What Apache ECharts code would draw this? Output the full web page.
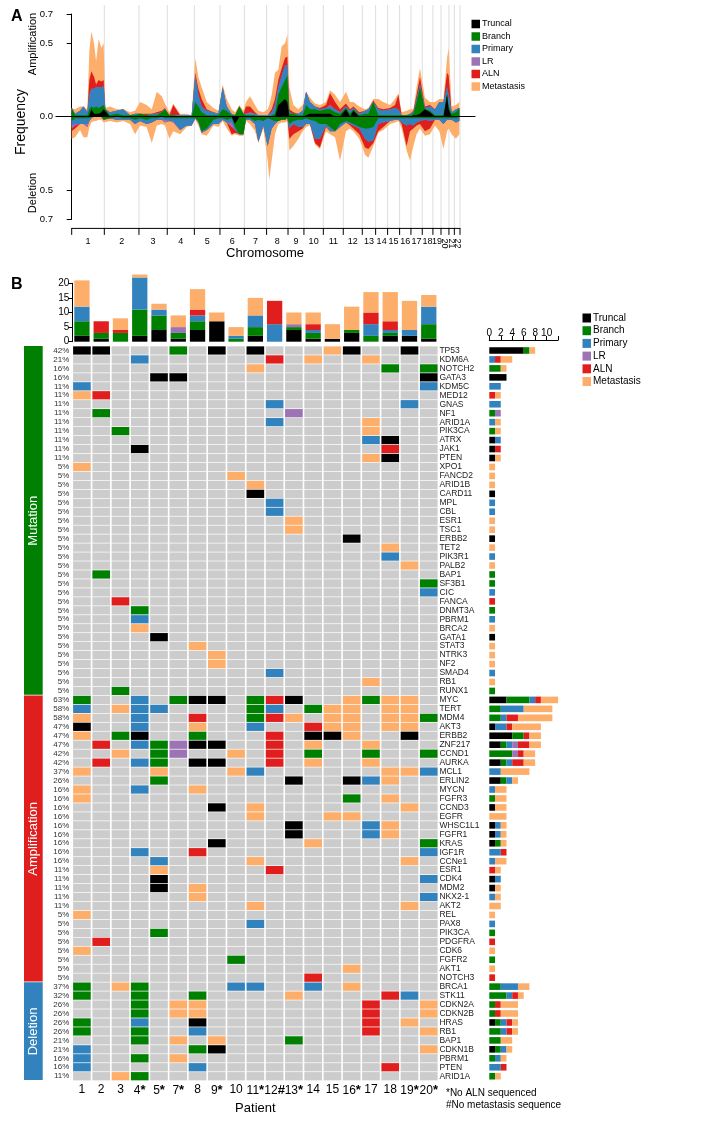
<!DOCTYPE html>
<html><head><meta charset="utf-8">
<script src="https://cdn.jsdelivr.net/npm/echarts@6/dist/echarts.min.js"></script>
<style>html,body{margin:0;padding:0;background:#fff}#c{width:720px;height:1130px}</style>
</head><body><div id="c"></div>
<script>
const FONT = '"Liberation Sans", Arial, Helvetica, sans-serif';
const layerNames = ['Truncal','Branch','Primary','LR','ALN','Metastasis'];
const layerColors = ['#000000','#008000','#3182bd','#9c73b5','#e01e1e','#fdae6b'];
const layerCodes = ['K','G','B','L','R','O'];

// ---------------- Panel A data ----------------
const chromosomes = ['1','2','3','4','5','6','7','8','9','10','11','12','13','14','15','16','17','18','19','20','21','22'];
const chromSizes = [242,257,210,201,190,181,165,159,118,144,148,141,99,89,89,84,84,79,60,59,40,42];
const freqTicks = [-0.7,-0.5,0,0.5,0.7];
const genomePos = [0,25,62,87,116,131,146,166,181,200,220,237, 250,284,334,383,433,470,507,556,594,631,668,692, 725,754,804,853,890,917,940,964,1002,1051,1088,1120, 1150,1187,1212,1244,1274,1293,1323,1360,1385,1422,1454,1466, 1484,1508,1533,1558,1583,1600,1615,1645,1682,1714,1739,1768, 1805,1842,1887,1917,1954,1991,2035,2065,2090,2134,2176,2201, 2238,2275,2312,2362,2399,2424,2448,2485,2510,2535,2559,2584, 2621,2658,2696,2728,2758,2785,2797,2819,2851,2876];
const ampTruncal = [0,0,0,0,0,.01,.05,.02,.02,.02,.03,.05, .05,0,0,0,0,0,0,0,0,0,0,0, 0,0,0,0,0,0,0,0,0,0,0,0, 0,0,0,0,0,0,0,0,0,0,0,0, 0,0,.08,.10,.12,.10,0,0,0,0,.01,.02, .02,.02,.02,.02,0,0,.05,0,.04,0,0,0, 0,0,0,0,0,0,0,0,0,.01,.01,.02, .05,.03,0,0,0,.15,.05,0,0,0];
const ampBranch = [.06,.01,.01,.01,.01,.04,.02,.04,.05,.04,.04,.03, 0,.01,.02,.01,.01,.01,.02,.01,.01,.01,.03,.05, .01,.01,0,0,0,.10,.07,.03,.01,.01,.01,.05, .04,.01,.01,.07,.02,.01,.01,.01,0,0,0,0, .01,.02,.07,.10,.13,.18,.02,.02,.01,.01,.07,.03, .03,.02,.03,.03,.03,.02,.01,.02,.01,.01,.02,.02, .10,.01,.01,.01,.01,.01,.01,.01,.01,.01,.09,.18, 0,.01,.01,.01,.01,.01,.02,.02,.03,.06];
const ampPrimary = [0,.01,.03,.06,.02,.10,.12,.13,.13,.14,.13,.13, 0,.02,.02,.04,0,.01,0,0,.01,.01,0,0, 0,0,.01,.01,.01,.18,.08,.04,.03,.02,.01,.15, .03,.01,0,0,0,.01,.01,.01,.01,.01,.01,.01, .02,.06,.05,.08,.10,.07,.01,0,.01,.03,.09,.05, .02,.01,.01,.02,.02,.01,.01,.02,.01,.01,.02,.03, 0,.04,.03,.04,.05,.04,0,0,.01,.01,.02,.02, .01,.03,.04,.09,.09,.04,.08,.01,.02,0];
const ampLR = [0,0,0,0,0,0,0,0,0,0,0,0, 0,0,0,0,0,0,0,0,0,0,0,.01, 0,0,0,0,0,0,0,0,0,0,0,0, 0,0,0,0,0,0,.01,0,0,0,0,0, 0,0,0,0,0,0,0,0,0,0,0,0, 0,0,0,.01,0,0,0,0,0,0,0,0, 0,0,0,0,0,0,0,0,0,0,0,0, 0,0,0,0,0,0,0,0,0,0];
const ampALN = [0,0,0,0,0,.10,.12,.08,.02,.05,.04,.04, 0,0,0,0,0,0,0,.01,0,.01,.01,0, 0,.07,0,0,0,.02,.04,.05,.01,0,0,0, 0,0,0,0,0,.05,.04,.01,0,0,0,.01, .02,.04,.05,.05,.05,.06,.02,.01,0,0,0,0, 0,.01,.02,.08,.05,.02,.02,.01,.01,.01,0,0, .01,.01,.01,.01,.02,.10,0,0,0,.01,.03,.05, .01,.01,0,0,0,.10,.13,0,0,0];
const ampMet = [0,.03,.03,0,.02,.20,.27,.23,.16,.28,.23,.25, .01,.04,.01,0,.02,.02,.08,.06,.03,.14,.10,.03, .02,.01,.01,.01,0,.10,.08,.08,.05,.03,.02,.02, .05,.03,.02,.01,.02,.03,.07,.05,.03,.02,.04,.06, .10,.18,.07,.15,.10,.15,.15,.05,.03,.04,0,.03, .02,.02,.02,.02,.05,.05,.08,.05,.03,.04,.01,.01, .01,.06,.05,.02,.04,.01,.02,.03,.03,.01,.05,.06, .06,.02,.05,.02,.02,.10,.19,.04,.03,.04];
const delTruncal = [0,0,0,0,0,0,0,0,0,0,0,0, 0,0,0,0,0,0,0,0,0,0,0,0, 0,0,0,0,0,0,0,0,0,0,0,0, 0,0,.05,0,0,0,0,0,0,0,0,0, 0,0,0,0,0,0,0,0,0,0,0,0, 0,0,0,0,0,0,0,0,0,0,0,0, 0,0,0,0,0,0,0,0,0,0,0,0, 0,0,0,0,0,0,0,0,0,0];
const delBranch = [.03,.01,.01,.01,.01,.01,0,0,0,0,0,.02, .02,.01,0,.01,.01,.02,.01,.02,.01,.01,0,.01, .01,.01,.01,.01,.01,.01,.03,.10,.08,.02,.01,.01, .02,.01,.02,.12,.12,.01,.01,.03,.02,.03,.01,.01, .02,.03,.03,.02,.02,.01,.05,.03,.02,.02,.01,.02, .03,.05,.05,.07,.10,.05,.03,.04,.05,.07,.08,.08, .07,.01,.01,.01,.01,.01,.01,.01,.01,.01,.01,.01, .01,.01,.01,.01,.01,.01,.01,.01,.01,.01];
const delPrimary = [.03,.04,.04,.04,.04,.02,.01,0,0,0,0,0, .01,0,.02,.01,.01,.03,.02,.03,.03,.01,.02,.01, .02,.02,.08,.05,.05,0,.01,.01,.01,.03,.04,.01, .02,.03,.02,0,0,.01,.01,.02,.15,.03,.19,.14, .06,.02,0,0,0,0,.03,.02,.05,.05,.04,.03, .12,.10,.01,.03,0,.02,.01,.01,.01,.01,.07,.09, .09,.04,.03,.02,.01,.01,.03,.05,.04,.05,.03,.02, .01,.02,.01,.01,.04,.01,.01,.01,.03,.02];
const delLR = [.02,.01,0,0,.02,0,0,0,0,0,0,0, 0,0,0,0,0,0,0,0,0,0,0,.02, 0,.01,0,0,0,0,0,0,0,0,0,0, 0,.03,0,0,0,0,0,0,0,0,0,0, 0,0,0,0,0,0,0,0,0,0,0,0, 0,0,0,0,0,0,0,0,0,0,0,0, 0,0,0,0,0,0,0,0,0,0,0,0, 0,0,0,0,0,0,0,0,0,0];
const delALN = [.02,.02,0,0,0,0,0,0,0,0,0,0, 0,0,0,0,0,0,0,0,0,0,0,0, 0,0,0,0,0,0,0,0,0,0,0,0, 0,.05,.02,0,0,0,0,0,0,0,0,0, 0,0,0,0,0,0,.07,.07,.03,.01,0,0, .03,.06,.01,0,0,0,0,.01,.02,.04,.06,.05, .02,.05,.03,0,0,0,.01,.14,.05,.02,.02,.02, .08,.05,0,0,0,0,0,0,0,0];
const delMet = [.05,.06,.04,.09,.07,.04,.03,.03,.03,.02,.02,.02, .01,.02,.02,.01,.03,.07,.03,.02,.14,.04,.03,.02, .12,.06,.03,.01,0,.01,.02,.01,.04,.01,.02,.01, .04,.01,.01,.01,.01,.01,.03,.05,.01,.02,.10,.28, .22,.07,.02,.02,.02,.02,.08,.08,.05,.02,.02,.01, .01,.01,.03,.02,.04,.23,.06,.02,.02,.03,.05,.06, .02,.01,.02,.02,.02,.01,.03,.03,.20,.12,.06,.03, .03,.04,.04,.08,.17,.08,.06,.10,.11,.09];

// ---------------- Panel B data ----------------
// codes: K Truncal, G Branch, B Primary, L LR, R ALN, O Metastasis, . none
const patients = ['1','2','3','4*','5*','7*','8','9*','10','11*','12#','13*','14','15','16*','17','18','19*','20*'];
const groupNames = ['Mutation','Amplification','Deletion'];
const groupColors = ['#008000','#e01e1e','#3182bd'];
const mutationGenes = ['TP53','KDM6A','NOTCH2','GATA3','KDM5C','MED12','GNAS','NF1','ARID1A','PIK3CA','ATRX','JAK1','PTEN','XPO1','FANCD2','ARID1B','CARD11','MPL','CBL','ESR1','TSC1','ERBB2','TET2','PIK3R1','PALB2','BAP1','SF3B1','CIC','FANCA','DNMT3A','PBRM1','BRCA2','GATA1','STAT3','NTRK3','NF2','SMAD4','RB1','RUNX1'];
const mutationCalls = [
 'KK...G.K.K...OK..K.','...B......R.O..O...','.........O......G.G','....KK............K',
 'B.................B','OR.................','..........B......B.','.G.........L.......',
 '..........B....O...','..G............O...','...............BK..','...K............R..',
 '...............OK..','O..................','........O..........','.........O.........',
 '.........K.........','..........B........','..........B........','...........O.......',
 '...........O.......','..............K....','................O..','................B..',
 '.................O.','.G.................','..................G','..................B',
 '..R................','...G...............','...B...............','...O...............',
 '....K..............','......O............','.......O...........','.......O...........',
 '..........B........','...............O...','..G................'];
const amplificationGenes = ['MYC','TERT','MDM4','AKT3','ERBB2','ZNF217','CCND1','AURKA','MCL1','ERLIN2','MYCN','FGFR3','CCND3','EGFR','WHSC1L1','FGFR1','KRAS','IGF1R','CCNe1','ESR1','CDK4','MDM2','NKX2-1','AKT2','REL','PAX8','PIK3CA','PDGFRA','CDK6','FGFR2','AKT1','NOTCH3'];
const amplificationCalls = [
 'G..B.GKK.GRK..OGOO.','B.OBB....GB.GOO.OO.','O..B..R..GRO.OO.OOG','K..B..O..B..ROO.OO.',
 'O.GK..G...R.KKO..K.','.R.BGLKK..R.O..O...','..O.GL..O.R.G..G..G','.R.BG.KK..R.O..O...',
 'O...O...OB......OOB','....G......K..KBO..','O..B..O............','O.............G.O..',
 '.......K.O.......O.','.........O...OO....','...........K...BO..','...........K...BO..',
 '.......K....O.....G','...B..R...........B','....B....O.......O.','....O.....R........',
 '....K.............B','....K.O............','......O...........B','.........O.......O.',
 'O..................','.........B.........','....G..............','.R.................',
 'O..................','........G..........','..............O....','............R......'];
const deletionGenes = ['BRCA1','STK11','CDKN2A','CDKN2B','HRAS','RB1','BAP1','CDKN1B','PBRM1','PTEN','ARID1A'];
const deletionCalls = [
 'G.OG....BB..B.O....','G..G..G....O....RB.','...G.OO........R..O','...G.OO........R..O',
 'G..B..K........R.O.','G..G..B........R..O','...G.O.O...G.......','B.....GK..........O',
 'B..G.O.............','B.....B.........R..','..OG...............'];
const rightAxisMax = 12;

// ---------------- derived structures ----------------
const chromStarts = [];
chromSizes.reduce((acc, s, i) => { chromStarts[i] = acc; return acc + s; }, 0);
const allRows = [];
[[mutationGenes, mutationCalls],[amplificationGenes, amplificationCalls],[deletionGenes, deletionCalls]].forEach(([genes, calls], g) => {
  genes.forEach((gene, i) => allRows.push({grp: g, gene: gene, calls: calls[i]}));
});
const nPat = patients.length;
const rowKeys = allRows.map((r, i) => i + ':' + r.gene);
const cellData = [];
allRows.forEach((r, ri) => { for (let c = 0; c < nPat; c++) cellData.push([c, ri, layerCodes.indexOf(r.calls[c])]); });
const rowCounts = layerCodes.map(code => allRows.map(r => r.calls.split('').filter(ch => ch === code).length));
const colCounts = layerCodes.map(code => patients.map((p, c) => allRows.filter(r => r.calls[c] === code).length));
const pctLabels = allRows.map(r => Math.round(r.calls.replace(/\./g, '').length / nPat * 100) + '%');
const groupSpans = [];
[mutationGenes.length, amplificationGenes.length, deletionGenes.length].reduce((acc, n, g) => { groupSpans.push([acc, acc + n - 1, g]); return acc + n; }, 0);

const ampLayers = [ampTruncal, ampBranch, ampPrimary, ampLR, ampALN, ampMet];
const delLayers = [delTruncal, delBranch, delPrimary, delLR, delALN, delMet];
// cumulative frequency up to layer k (stack built here, drawn outermost first)
const cumulative = (layers, k, sign) => genomePos.map((x, i) => {
  let s = 0; for (let j = 0; j <= k; j++) s += layers[j][i];
  return [x, sign * Math.round(s * 1000) / 1000];
});

const series = [];
// chromosome boundary lines
series.push({
  type: 'custom', xAxisIndex: 0, yAxisIndex: 0, z: 1, clip: false, silent: true,
  data: chromSizes.map((s, i) => [chromStarts[i] + s, 0]), encode: {x: 0, y: 1},
  renderItem: (params, api) => {
    const x = api.coord([api.value(0), 0])[0];
    const top = api.coord([0, 0.7])[1] - 9, bot = api.coord([0, -0.7])[1] + 8;
    return {type: 'line', shape: {x1: x, y1: top, x2: x, y2: bot}, style: {stroke: '#dddddd', lineWidth: 1}};
  }
});
for (let k = layerNames.length - 1; k >= 0; k--) {
  [[ampLayers, 1], [delLayers, -1]].forEach(([layers, sign]) => {
    series.push({type: 'line', name: layerNames[k], xAxisIndex: 0, yAxisIndex: 0, symbol: 'none', z: 2,
      lineStyle: {width: 0, color: layerColors[k]}, itemStyle: {color: layerColors[k]},
      areaStyle: {color: layerColors[k], opacity: 1, origin: 0},
      data: cumulative(layers, k, sign)});
  });
}
// chromosome bracket axis
series.push({
  type: 'custom', xAxisIndex: 0, yAxisIndex: 0, z: 3, clip: false, silent: true,
  data: chromSizes.map((s, i) => [chromStarts[i], chromStarts[i] + s, i, 0]), encode: {x: [0, 1], y: 3},
  renderItem: (params, api) => {
    const s = api.value(0), e = api.value(1), i = api.value(2);
    const pS = api.coord([s, -0.7]), pE = api.coord([e, -0.7]);
    const y = pS[1] + 9;
    const children = [
      {type: 'line', shape: {x1: pS[0] - 0.5, y1: y, x2: pE[0] + 0.5, y2: y}, style: {stroke: '#000', lineWidth: 1}},
      {type: 'line', shape: {x1: pS[0], y1: y, x2: pS[0], y2: y + 6.5}, style: {stroke: '#000', lineWidth: 1}}
    ];
    if (i === chromosomes.length - 1) children.push({type: 'line', shape: {x1: pE[0], y1: y, x2: pE[0], y2: y + 6.5}, style: {stroke: '#000', lineWidth: 1}});
    const cx = (pS[0] + pE[0]) / 2;
    const vertical = i >= 19;
    children.push({type: 'text', x: cx, y: vertical ? y + 15 : y + 13.5, rotation: vertical ? -Math.PI / 2 : 0,
      style: {text: chromosomes[i], x: 0, y: 0, align: 'center', verticalAlign: 'middle', fill: '#000', font: '9px ' + FONT}});
    return {type: 'group', children: children};
  }
});
// top stacked bars per patient
layerNames.forEach((name, k) => {
  series.push({type: 'bar', name: name, xAxisIndex: 1, yAxisIndex: 1, stack: 'top', barWidth: 15.3, clip: false,
    itemStyle: {color: layerColors[k]}, data: colCounts[k]});
});
// oncoprint cells
series.push({
  type: 'custom', xAxisIndex: 2, yAxisIndex: 2, silent: true, clip: false,
  data: cellData, encode: {x: 0, y: 1},
  renderItem: (params, api) => {
    const p = api.coord([api.value(0), api.value(1)]);
    const sz = api.size([1, 1]);
    const k = api.value(2);
    const w = sz[0] - 1.6, h = sz[1] - 0.7;
    return {type: 'rect', shape: {x: p[0] - w / 2, y: p[1] - h / 2, width: w, height: h},
      style: {fill: k < 0 ? '#cccccc' : layerColors[k]}};
  }
});
// group blocks
series.push({
  type: 'custom', xAxisIndex: 2, yAxisIndex: 2, silent: true, clip: false,
  data: groupSpans.map(g => [0, g[0], g[1], g[2]]), encode: {x: 0, y: [1, 2]},
  renderItem: (params, api) => {
    const s = api.value(1), e = api.value(2), g = api.value(3);
    const h = api.size([1, 1])[1];
    const y1 = api.coord([0, s])[1] - h / 2, y2 = api.coord([0, e])[1] + h / 2;
    const x1 = 24, x2 = 42.7;
    return {type: 'group', children: [
      {type: 'rect', shape: {x: x1, y: y1, width: x2 - x1, height: y2 - y1 - 0.6}, style: {fill: groupColors[g]}},
      {type: 'text', x: (x1 + x2) / 2, y: (y1 + y2) / 2, rotation: Math.PI / 2,
        style: {text: groupNames[g], x: 0, y: 0, align: 'center', verticalAlign: 'middle', fill: '#fff', font: '13px ' + FONT}}
    ]};
  }
});
// right stacked bars per gene
layerNames.forEach((name, k) => {
  series.push({type: 'bar', name: name, xAxisIndex: 3, yAxisIndex: 4, stack: 'right', barWidth: 6.6,
    itemStyle: {color: layerColors[k]}, data: rowCounts[k]});
});

const patientLabel = v => {
  const m = v.match(/^(\d+)([*#]?)$/);
  return m[2] ? '{n|' + m[1] + '}{s|' + m[2] + '}' : '{n|' + m[1] + '}';
};

const option = {
  animation: false,
  backgroundColor: '#ffffff',
  textStyle: {fontFamily: FONT},
  grid: [
    {left: 56, top: 14, width: 419, height: 205.4},
    {left: 72.3, top: 283.3, width: 366.1, height: 58.4},
    {left: 72.3, top: 346, width: 366.1, height: 734.7},
    {left: 489.3, top: 346, width: 68.8, height: 734.7}
  ],
  xAxis: [
    {gridIndex: 0, type: 'value', min: -116.5, max: 2992.3, z: 5,
      axisLine: {onZero: true, lineStyle: {color: '#000', width: 1.2}}, axisTick: {show: false}, axisLabel: {show: false}, splitLine: {show: false}},
    {gridIndex: 1, type: 'category', data: patients, show: false},
    {gridIndex: 2, type: 'category', data: patients, position: 'bottom',
      axisLine: {show: false}, axisTick: {show: false},
      axisLabel: {interval: 0, margin: 3, color: '#000', formatter: patientLabel,
        rich: {n: {fontSize: 12, color: '#000', fontFamily: FONT}, s: {fontSize: 13, fontWeight: 'bold', color: '#000', fontFamily: FONT, verticalAlign: 'top'}}},
      name: 'Patient', nameLocation: 'middle', nameGap: 15, nameTextStyle: {fontSize: 13, color: '#000'}},
    {gridIndex: 3, type: 'value', min: 0, max: rightAxisMax, interval: 2, position: 'top', offset: 6,
      axisLine: {show: true, lineStyle: {color: '#000'}}, axisTick: {show: true, length: 4, lineStyle: {color: '#000'}},
      axisLabel: {fontSize: 10, color: '#000', margin: 2, formatter: v => v > 10 ? '' : String(v)}, splitLine: {show: false}}
  ],
  yAxis: [
    {gridIndex: 0, type: 'value', min: -0.7, max: 0.7,
      axisLine: {show: true, lineStyle: {color: '#000'}},
      axisTick: {show: true, length: 5, customValues: freqTicks, lineStyle: {color: '#000'}},
      axisLabel: {customValues: freqTicks, formatter: v => Math.abs(v).toFixed(1), fontSize: 9.5, color: '#000', margin: 3},
      splitLine: {show: false}},
    {gridIndex: 1, type: 'value', min: 0, max: 20, interval: 5,
      axisLine: {show: true, lineStyle: {color: '#000'}}, axisTick: {show: true, length: 4, lineStyle: {color: '#000'}},
      axisLabel: {fontSize: 10, color: '#000', margin: 3}, splitLine: {show: false}},
    {gridIndex: 2, type: 'category', data: rowKeys, inverse: true, position: 'left',
      axisLine: {show: false}, axisTick: {show: false},
      axisLabel: {interval: 0, fontSize: 8, color: '#333', margin: 3, formatter: (v, i) => pctLabels[i]}},
    {gridIndex: 2, type: 'category', data: rowKeys, inverse: true, position: 'right',
      axisLine: {show: false}, axisTick: {show: false},
      axisLabel: {interval: 0, fontSize: 8.5, color: '#222', margin: 1, formatter: (v, i) => allRows[i].gene}},
    {gridIndex: 3, type: 'category', data: rowKeys, inverse: true, show: false}
  ],
  legend: [
    {data: layerNames, orient: 'vertical', left: 471.5, top: 19.5, padding: 0, itemWidth: 8.5, itemHeight: 8.5, itemGap: 3.5,
      icon: 'rect', selectedMode: false, textStyle: {fontSize: 9, color: '#000', lineHeight: 9, padding: [0, 0, 0, -3]}},
    {data: layerNames, orient: 'vertical', left: 582.5, top: 313, padding: 0, itemWidth: 8.5, itemHeight: 9, itemGap: 2.7,
      icon: 'rect', selectedMode: false, textStyle: {fontSize: 10, color: '#000', lineHeight: 9, padding: [0, 0, 0, -3]}}
  ],
  graphic: [
    {type: 'text', left: 11, top: 9, style: {text: 'A', font: 'bold 16px ' + FONT, fill: '#000'}},
    {type: 'text', left: 11, top: 277, style: {text: 'B', font: 'bold 16px ' + FONT, fill: '#000'}},
    {type: 'text', x: 33, y: 44, rotation: Math.PI / 2, style: {text: 'Amplification', x: 0, y: 0, align: 'center', verticalAlign: 'middle', font: '11px ' + FONT, fill: '#000'}},
    {type: 'text', x: 21, y: 122, rotation: Math.PI / 2, style: {text: 'Frequency', x: 0, y: 0, align: 'center', verticalAlign: 'middle', font: '14px ' + FONT, fill: '#000'}},
    {type: 'text', x: 33, y: 193, rotation: Math.PI / 2, style: {text: 'Deletion', x: 0, y: 0, align: 'center', verticalAlign: 'middle', font: '11px ' + FONT, fill: '#000'}},
    {type: 'text', x: 265, y: 253, style: {text: 'Chromosome', x: 0, y: 0, align: 'center', verticalAlign: 'middle', font: '13px ' + FONT, fill: '#000'}},
    {type: 'text', x: 446, y: 1093, style: {text: '*No ALN sequenced', x: 0, y: 0, align: 'left', verticalAlign: 'middle', font: '10px ' + FONT, fill: '#000'}},
    {type: 'text', x: 446, y: 1105, style: {text: '#No metastasis sequence', x: 0, y: 0, align: 'left', verticalAlign: 'middle', font: '10px ' + FONT, fill: '#000'}}
  ],
  series: series
};
const chart = echarts.init(document.getElementById('c'), null, {renderer: 'canvas'});
chart.setOption(option);
</script></body></html>
